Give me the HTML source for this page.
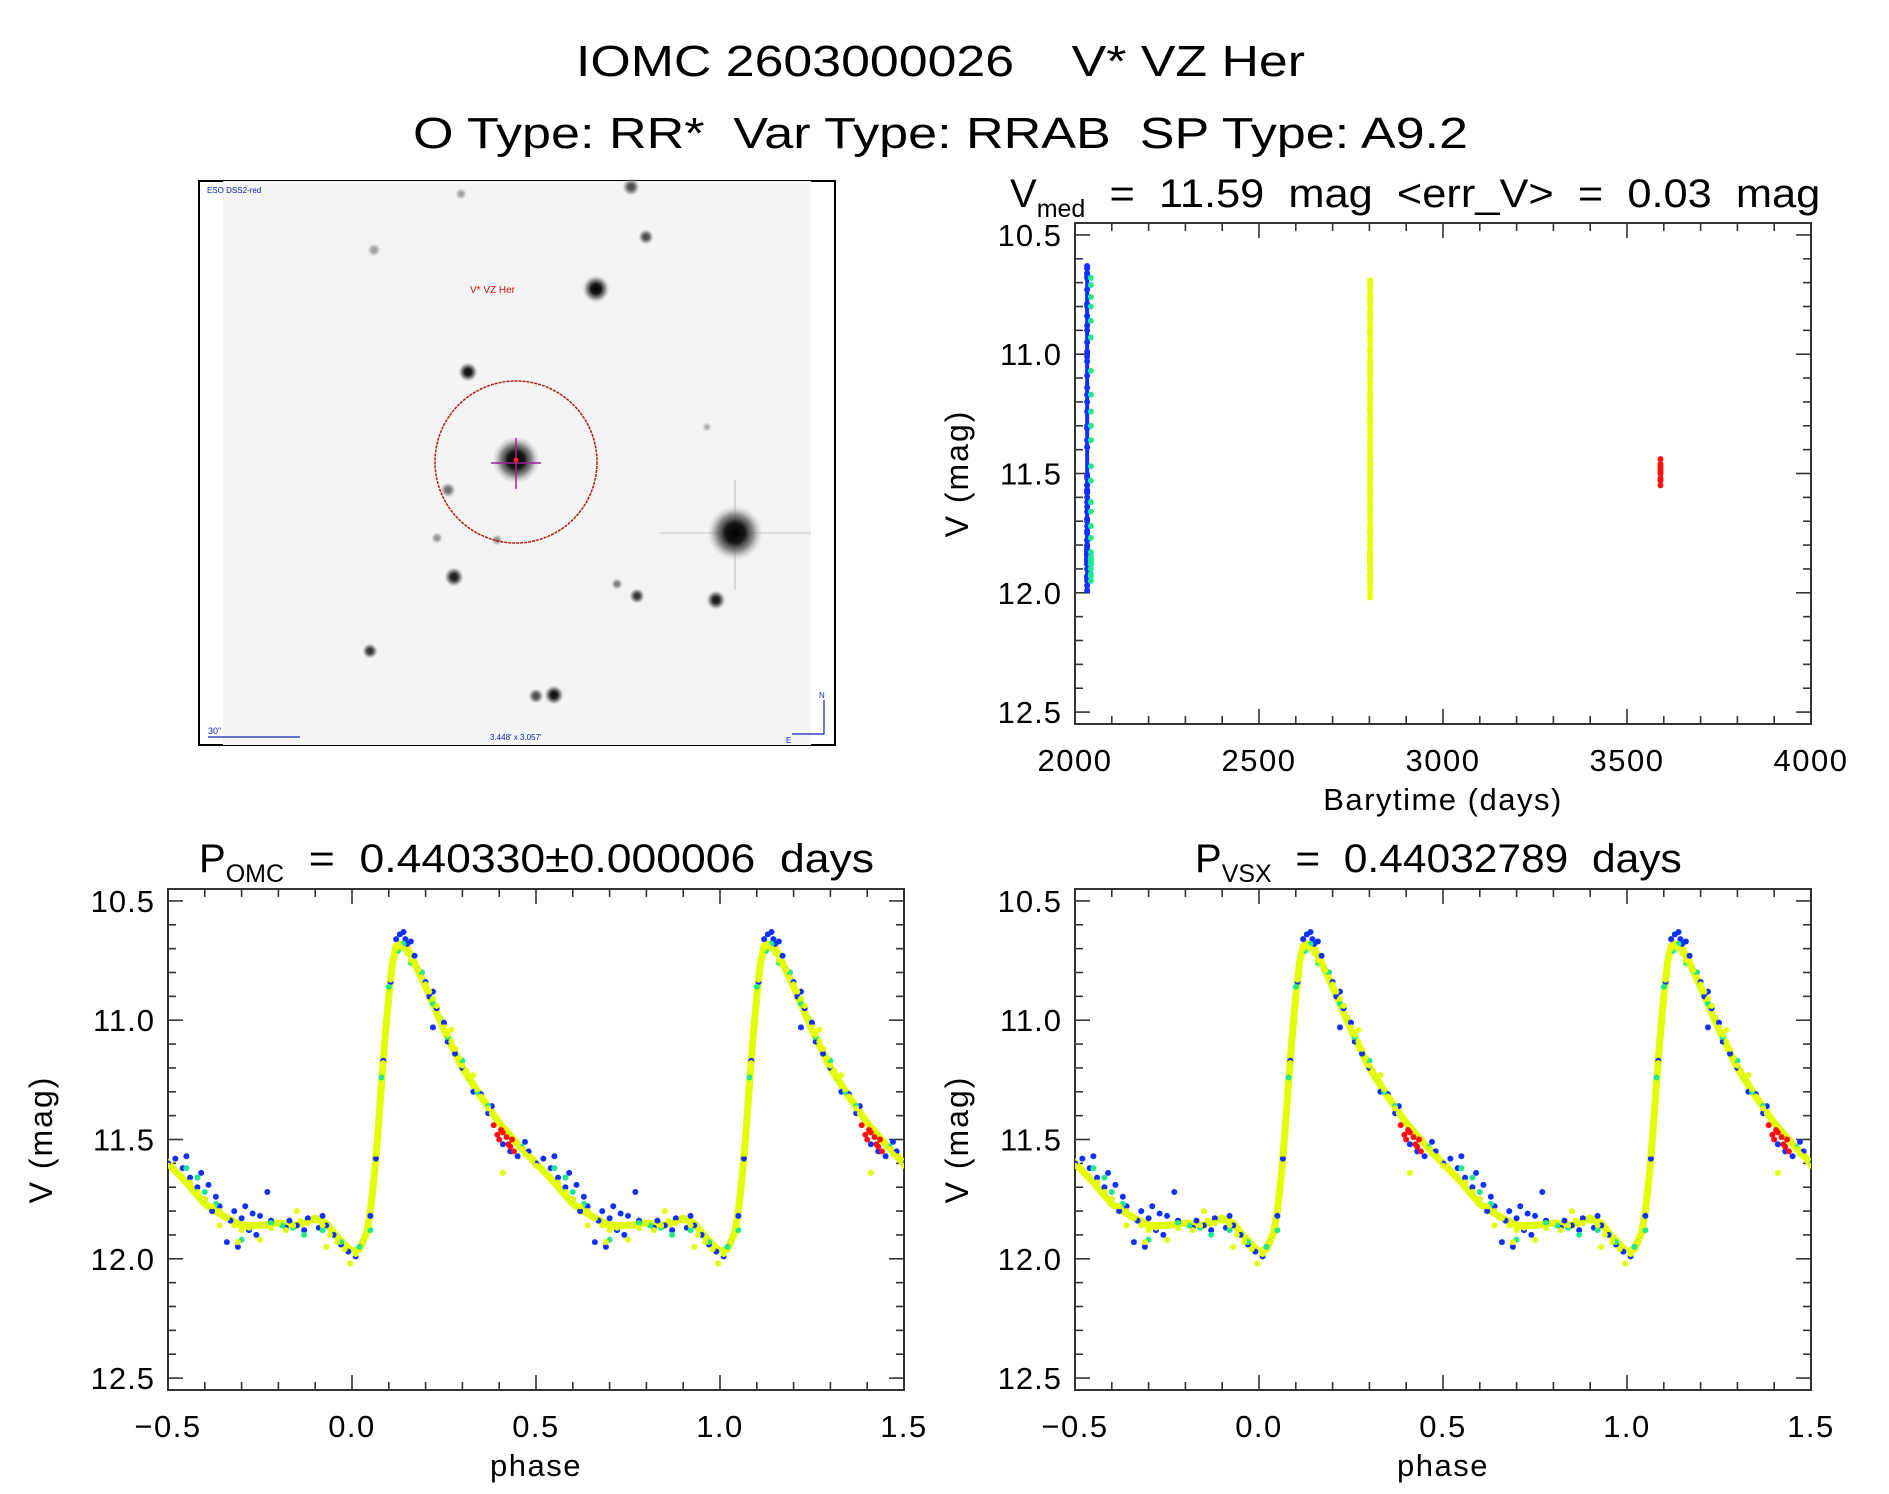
<!DOCTYPE html>
<html><head><meta charset="utf-8"><title>IOMC 2603000026 V* VZ Her</title>
<style>
html,body{margin:0;padding:0;background:#fff;}
svg{display:block;font-family:"Liberation Sans","DejaVu Sans",sans-serif;}
text{white-space:pre;}
</style></head>
<body>
<svg id="fig" width="1889" height="1494" viewBox="0 0 1889 1494" xmlns="http://www.w3.org/2000/svg" xml:space="preserve">
  <defs>
    <radialGradient id="starG">
      <stop offset="0" stop-color="#000"/>
      <stop offset="0.35" stop-color="#151515"/>
      <stop offset="0.65" stop-color="#666" stop-opacity="0.75"/>
      <stop offset="1" stop-color="#ccc" stop-opacity="0"/>
    </radialGradient>
  </defs>
  <text x="576" y="76" font-size="44" textLength="729" lengthAdjust="spacingAndGlyphs" fill="#000">IOMC 2603000026    V* VZ Her</text>
  <text x="413" y="148" font-size="44" textLength="1055" lengthAdjust="spacingAndGlyphs" fill="#000">O Type: RR*  Var Type: RRAB  SP Type: A9.2</text>

  <g>
    <rect x="199" y="181" width="636" height="564" fill="#fff" stroke="#000" stroke-width="2"/>
    <rect x="223" y="181" width="588" height="564" fill="#f4f4f4"/>
    <line x1="735" y1="480" x2="735" y2="590" stroke="#d8d8d8" stroke-width="2"/>
    <line x1="660" y1="533" x2="811" y2="533" stroke="#dcdcdc" stroke-width="2"/>
    <g id="stars"></g>
    <circle cx="516" cy="462" r="81" fill="none" stroke="#b01818" stroke-width="1.5" stroke-dasharray="3,1"/>
    <line x1="491" y1="463" x2="541" y2="463" stroke="#a020a0" stroke-width="1.5"/>
    <line x1="516" y1="438" x2="516" y2="489" stroke="#a020a0" stroke-width="1.5"/>
    <circle cx="516" cy="460" r="2.5" fill="#ff2020"/>
    <text x="470" y="293" font-size="10" fill="#d01010">V* VZ Her</text>
    <text x="207" y="193" font-size="8" fill="#1020b0">ESO DSS2-red</text>
    <text x="208" y="734" font-size="9" fill="#1020b0">30"</text>
    <line x1="208" y1="737" x2="300" y2="737" stroke="#1020b0" stroke-width="1.2"/>
    <text x="490" y="740" font-size="8" fill="#1020b0">3.448' x 3.057'</text>
    <path d="M824 700 L824 734 L792 734" fill="none" stroke="#1020b0" stroke-width="1.2"/>
    <text x="819" y="698" font-size="8" fill="#1020b0">N</text>
    <text x="786" y="743" font-size="8" fill="#1020b0">E</text>
  </g>

  <g id="plots"></g>
</svg>
<script>
// ===== data =====
const bluePhase = [0.52,0.54,0.55,0.56,0.58,0.59,0.60,0.61,0.62,0.63,0.64,0.66,0.67,0.68,0.69,0.70,0.71,0.72,0.73,0.74,0.75,0.76,0.77,0.78,0.80,0.82,0.83,0.85,0.87,0.88,0.90,0.91,0.92,0.93,0.95,0.97,0.99,0.01,0.03,0.05,0.065,0.085,0.105,0.12,0.13,0.14,0.145,0.15,0.16,0.17,0.18,0.19,0.20,0.21,0.22,0.23,0.24,0.25,0.22,0.26,0.28,0.30,0.32,0.33,0.35,0.37,0.38,0.41,0.43,0.45,0.47,0.48,0.50];
const blueMag   = [11.58,11.62,11.57,11.66,11.70,11.64,11.75,11.69,11.80,11.74,11.78,11.93,11.84,11.80,11.95,11.83,11.78,11.88,11.81,11.90,11.82,11.86,11.72,11.84,11.85,11.87,11.84,11.86,11.88,11.83,11.84,11.87,11.82,11.86,11.90,11.94,11.97,11.99,11.93,11.82,11.58,11.17,10.84,10.66,10.64,10.63,10.66,10.68,10.67,10.73,10.79,10.80,10.84,10.90,10.88,10.95,10.99,11.01,11.03,11.09,11.14,11.20,11.24,11.30,11.31,11.39,11.36,11.52,11.55,11.57,11.51,11.55,11.60];
const greenPhase = [0.55,0.58,0.60,0.63,0.66,0.70,0.74,0.78,0.81,0.84,0.87,0.92,0.97,0.02,0.05,0.08,0.10,0.125,0.14,0.16,0.19,0.22,0.26,0.30,0.34,0.37,0.42,0.46];
const greenMag   = [11.62,11.66,11.72,11.77,11.83,11.92,11.86,11.85,11.86,11.87,11.90,11.88,11.93,11.95,11.88,11.24,10.86,10.71,10.68,10.76,10.80,10.93,11.07,11.17,11.30,11.36,11.47,11.53];
const yellowPhase = [0.50,0.52,0.54,0.56,0.58,0.60,0.62,0.64,0.66,0.68,0.70,0.72,0.74,0.76,0.78,0.80,0.82,0.84,0.86,0.88,0.90,0.92,0.94,0.96,0.98,0.995,0.01,0.03,0.045,0.055,0.06,0.065,0.07,0.075,0.08,0.085,0.09,0.095,0.10,0.105,0.11,0.115,0.12,0.13,0.14,0.15,0.16,0.17,0.18,0.19,0.20,0.21,0.22,0.23,0.24,0.25,0.26,0.27,0.28,0.29,0.30,0.31,0.32,0.33,0.34,0.35,0.36,0.37,0.38,0.39,0.40,0.41,0.42,0.43,0.44,0.45,0.46,0.47,0.48,0.49,0.41,0.69,0.33,0.27,0.85,0.64,0.75,0.93];
const yellowMag   = [11.61,11.63,11.66,11.68,11.72,11.75,11.78,11.80,11.83,11.86,11.88,11.87,11.86,11.86,11.87,11.85,11.88,11.86,11.84,11.85,11.84,11.86,11.90,11.93,11.96,12.02,11.98,11.93,11.86,11.74,11.64,11.56,11.46,11.37,11.28,11.18,11.08,10.98,10.90,10.83,10.76,10.72,10.70,10.69,10.70,10.72,10.75,10.77,10.79,10.82,10.85,10.88,10.91,10.94,10.99,11.03,11.06,11.09,11.12,11.16,11.19,11.21,11.24,11.27,11.29,11.32,11.34,11.37,11.39,11.41,11.43,11.45,11.47,11.49,11.50,11.52,11.54,11.56,11.57,11.59,11.64,11.93,11.23,11.04,11.80,11.86,11.92,11.95];
const redPhase = [0.385,0.395,0.40,0.405,0.41,0.42,0.425,0.43,0.435,0.44];
const redMag   = [11.44,11.48,11.50,11.46,11.47,11.49,11.52,11.53,11.50,11.55];
const tmplPhase = [0.0,0.02,0.04,0.05,0.06,0.07,0.08,0.09,0.10,0.11,0.12,0.13,0.15,0.17,0.20,0.25,0.30,0.35,0.40,0.45,0.50,0.55,0.60,0.65,0.70,0.75,0.80,0.85,0.90,0.93,0.95,0.98,1.0];
const tmplMag   = [11.97,11.96,11.89,11.80,11.66,11.48,11.27,11.07,10.90,10.76,10.69,10.68,10.70,10.76,10.86,11.04,11.20,11.32,11.43,11.52,11.60,11.68,11.77,11.82,11.86,11.86,11.85,11.86,11.83,11.85,11.89,11.94,11.97];
const seriesTime = [2033, 2043, 2802, 3591];
const magRange = [10.45, 12.55];
const magTicks = [10.5, 11.0, 11.5, 12.0, 12.5];
const magTickLabels = ["10.5","11.0","11.5","12.0","12.5"];
const timeRange = [2000, 4000];
const timeTicks = [2000, 2500, 3000, 3500, 4000];
const timeTickLabels = ["2000","2500","3000","3500","4000"];
const phaseRange = [-0.5, 1.5];
const phaseTicks = [-0.5, 0.0, 0.5, 1.0, 1.5];
const phaseTickLabels = ["\u22120.5","0.0","0.5","1.0","1.5"];
const starX = [516,596,468,735,454,716,637,617,370,554,536,631,646,448,461,374,497,437,707];
const starY = [460,289,372,533,577,600,596,584,651,695,696,187,237,490,194,250,540,538,427];
const starR = [24,14,10,28,10,10,8,6,8,10,8,9,8,8,6,7,6,6,5];
const starOp = [1,1,0.95,1,0.9,0.9,0.8,0.5,0.8,0.95,0.7,0.7,0.7,0.55,0.35,0.35,0.4,0.4,0.3];

const NS = "http://www.w3.org/2000/svg";
function mk(tag, attrs, parent){
  const e = document.createElementNS(NS, tag);
  for (const k in attrs) e.setAttribute(k, attrs[k]);
  parent.appendChild(e);
  return e;
}
const COL = {blue:"#1030ff", green:"#20e890", yellow:"#e4ff00", red:"#ff1010"};

const sg = document.getElementById("stars");
for (let i=0;i<starX.length;i++){
  const c = mk("circle",{cx:starX[i],cy:starY[i],r:starR[i],fill:"url(#starG)",opacity:starOp[i]},sg);
  
  
}

const root = document.getElementById("plots");

function makePanel(name, L, T, R, B, xr, xt, xtl, xMinor, xTitle, yTitleCx){
  const g = mk("g",{},root);
  
  
  const sx = v => L + (v - xr[0])/(xr[1]-xr[0])*(R-L);
  const sy = v => T + (v - magRange[0])/(magRange[1]-magRange[0])*(B-T);
  const frame = mk("rect",{x:L,y:T,width:R-L,height:B-T,fill:"none",stroke:"#333","stroke-width":2},g);
  
  
  for (let v = xr[0]; v <= xr[1] + 1e-9; v += xMinor){
    const isMaj = xt.some(t => Math.abs(t - v) < 1e-6);
    const len = isMaj ? 15 : 8;
    const x = sx(v);
    const t1 = mk("line",{x1:x,y1:B,x2:x,y2:B-len,stroke:"#333","stroke-width":1.6},g);
    
    
    const t2 = mk("line",{x1:x,y1:T,x2:x,y2:T+len,stroke:"#333","stroke-width":1.6},g);
    
    
  }
  for (let i=0;i<xt.length;i++){
    const tl = mk("text",{x:sx(xt[i]),y:B+47,"font-size":31,"text-anchor":"middle","letter-spacing":"1.5"},g);
    tl.textContent = xtl[i];
    
    
  }
  for (let k = 0; k <= 21; k++){
    const v = 10.4 + k*0.1;
    if (v < magRange[0]-1e-9 || v > magRange[1]+1e-9) continue;
    const isMaj = magTicks.some(t => Math.abs(t - v) < 1e-6);
    const len = isMaj ? 15 : 8;
    const y = sy(v);
    const a = mk("line",{x1:L,y1:y,x2:L+len,y2:y,stroke:"#333","stroke-width":1.6},g);
    
    
    const b = mk("line",{x1:R,y1:y,x2:R-len,y2:y,stroke:"#333","stroke-width":1.6},g);
    
    
  }
  for (let i=0;i<magTicks.length;i++){
    const tl = mk("text",{x:L-13,y:sy(magTicks[i])+11,"font-size":31,"text-anchor":"end","letter-spacing":"1"},g);
    tl.textContent = magTickLabels[i];
    
    
  }
  const yt = mk("text",{x:0,y:0,"font-size":32,"text-anchor":"middle","letter-spacing":"2",transform:`translate(${yTitleCx},${(T+B)/2}) rotate(-90)`},g);
  yt.textContent = "V (mag)";
  
  
  const xtt = mk("text",{x:(L+R)/2,y:B+86,"font-size":31,"text-anchor":"middle","letter-spacing":"1.5"},g);
  xtt.textContent = xTitle;
  
  
  const clip = "clip-" + name;
  const cp = mk("clipPath",{id:clip},g);
  mk("rect",{x:L,y:T,width:R-L,height:B-T},cp);
  const data = mk("g",{"clip-path":`url(#${clip})`},g);
  
  
  return {g, data, sx, sy};
}

function title(x, y, main, sub, rest, restLen, name){
  const t = mk("text",{x:x,y:y,"font-size":40,fill:"#000"},root);
  
  
  const a = mk("tspan",{},t); a.textContent = main;
  const b = mk("tspan",{dy:10,"font-size":25}, t); b.textContent = sub;
  const c = mk("tspan",{dy:-10,textLength:restLen,lengthAdjust:"spacingAndGlyphs"}, t); c.textContent = rest;
}

const tp = makePanel("time-series-plot", 1075, 223, 1811, 724, timeRange, timeTicks, timeTickLabels, 100, "Barytime (days)", 968);
{
  const ymin = Math.min(...yellowMag), ymax = Math.max(...yellowMag);
  const ln = mk("line",{x1:tp.sx(seriesTime[2]),y1:tp.sy(ymin),x2:tp.sx(seriesTime[2]),y2:tp.sy(ymax),stroke:COL.yellow,"stroke-width":5},tp.data);
  
  
  const bmin = Math.min(...blueMag), bmax = Math.max(...blueMag);
  const lb = mk("line",{x1:tp.sx(seriesTime[0]),y1:tp.sy(bmin),x2:tp.sx(seriesTime[0]),y2:tp.sy(bmax),stroke:COL.blue,"stroke-width":4},tp.data);
  
  
}
const tSeries = [[blueMag,COL.blue,"blue"],[greenMag,COL.green,"green"],[yellowMag,COL.yellow,"yellow"],[redMag,COL.red,"red"]];
tSeries.forEach((s, si) => {
  s[0].forEach(m => {
    const c = mk("circle",{cx:tp.sx(seriesTime[si]),cy:tp.sy(m),r:3,fill:s[1]},tp.data);
    
    
  });
});
title(1010, 207, "V", "med", "  =  11.59  mag  <err_V>  =  0.03  mag", 735, "time-plot-title");

function phasePanel(name, L, R, yTitleCx){
  const p = makePanel(name, L, 889, R, 1390, phaseRange, phaseTicks, phaseTickLabels, 0.1, "phase", yTitleCx);
  const shifts = [-1, 0, 1];
  shifts.forEach(sh => {
    const pts = tmplPhase.map((ph,i) => `${p.sx(ph+sh)},${p.sy(tmplMag[i])}`).join(" ");
    const pl = mk("polyline",{points:pts,fill:"none",stroke:COL.yellow,"stroke-width":7,"stroke-linejoin":"round"},p.data);
    
    
  });
  const series = [[bluePhase,blueMag,COL.blue,"blue"],[greenPhase,greenMag,COL.green,"green"],[yellowPhase,yellowMag,COL.yellow,"yellow"],[redPhase,redMag,COL.red,"red"]];
  series.forEach(s => {
    shifts.forEach(sh => {
      s[0].forEach((ph,i) => {
        const x = ph + sh;
        if (x < phaseRange[0]-0.01 || x > phaseRange[1]+0.01) return;
        const c = mk("circle",{cx:p.sx(x),cy:p.sy(s[1][i]),r:3,fill:s[2]},p.data);
        
        
      });
    });
  });
  return p;
}
phasePanel("phase-plot-omc", 168, 904, 52);
title(199, 872, "P", "OMC", "  =  0.440330\u00b10.000006  days", 590, "omc-period-title");
phasePanel("phase-plot-vsx", 1075, 1811, 968);
title(1195, 872, "P", "VSX", "  =  0.44032789  days", 410, "vsx-period-title");
</script>
</body></html>
